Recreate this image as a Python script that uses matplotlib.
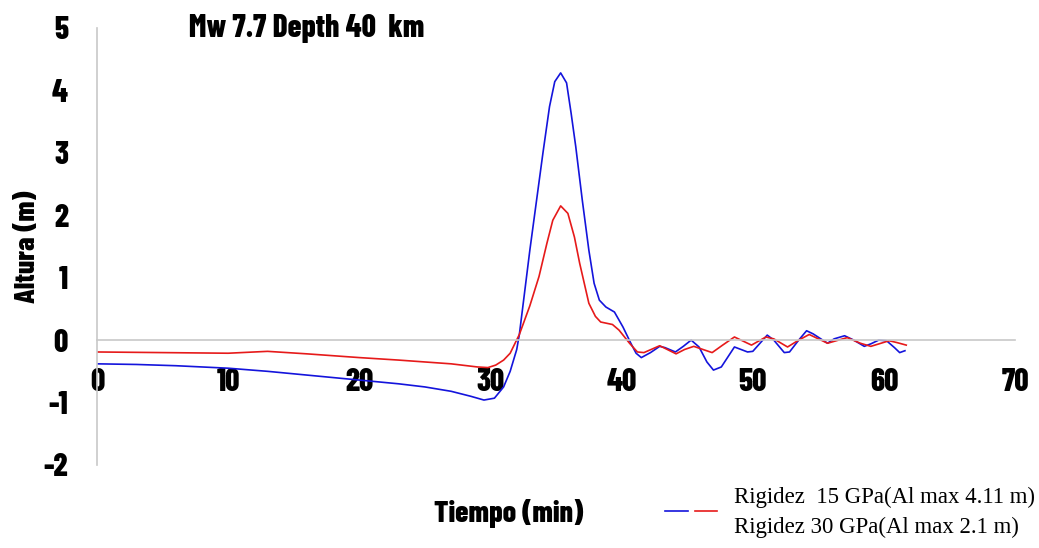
import matplotlib.pyplot as plt
from matplotlib.lines import Line2D

plt.rcParams['axes.unicode_minus'] = False

# tiempo (min) y altura (m)
t_15 = [0, 3, 6, 10, 13, 16, 20, 23, 25, 27, 28.5, 29.5, 30.3, 31.0, 31.5, 32.0, 32.2,
        33.0, 34.0, 34.5, 34.9, 35.35, 35.8, 36.15, 36.5, 37.0, 37.5, 37.9, 38.3, 38.8,
        39.45, 40.1, 40.7, 41.1, 41.5, 42.2, 42.9, 43.3, 44.1, 44.7, 45.3, 45.9, 46.5,
        47.0, 47.6, 48.6, 49.6, 50.0, 51.1, 51.6, 52.4, 52.8, 53.5, 54.1, 54.6, 55.7,
        56.2, 57.0, 57.7, 58.5, 59.0, 59.6, 60.2, 60.8, 61.2, 61.6]
h_15 = [-0.38, -0.39, -0.41, -0.45, -0.50, -0.56, -0.64, -0.70, -0.75, -0.82, -0.90,
        -0.96, -0.93, -0.75, -0.50, -0.15, 0.09, 1.44, 3.0, 3.74, 4.14, 4.28, 4.12, 3.63,
        3.1, 2.24, 1.44, 0.91, 0.64, 0.53, 0.45, 0.21, -0.05, -0.21, -0.28, -0.20, -0.10,
        -0.12, -0.19, -0.10, 0.0, -0.11, -0.35, -0.48, -0.43, -0.11, -0.19, -0.18, 0.08,
        0.0, -0.20, -0.19, 0.0, 0.15, 0.10, -0.05, 0.02, 0.07, 0.0, -0.10, -0.06, 0.0,
        -0.01, -0.12, -0.20, -0.17]

t_30 = [0, 5, 10, 13, 16, 20, 23, 25, 27, 29, 29.8, 30.4, 31.0, 31.5, 32.2, 33.0, 33.7,
        34.3, 34.75, 35.35, 35.9, 36.4, 36.8, 37.5, 38.0, 38.4, 39.3, 39.8, 40.6, 41.2,
        41.7, 42.9, 44.15, 44.8, 45.5, 46.2, 46.9, 47.7, 48.6, 49.9, 51.0, 51.6, 52.65,
        53.5, 54.3, 55.7, 57.2, 58.2, 59.0, 60.4, 61.0, 61.7]
h_30 = [-0.19, -0.20, -0.21, -0.18, -0.22, -0.28, -0.32, -0.35, -0.38, -0.43, -0.44,
        -0.40, -0.32, -0.21, 0.09, 0.55, 1.02, 1.55, 1.92, 2.15, 2.03, 1.65, 1.23, 0.59,
        0.38, 0.29, 0.25, 0.16, -0.05, -0.19, -0.20, -0.09, -0.22, -0.15, -0.10, -0.15,
        -0.20, -0.08, 0.05, -0.08, 0.05, 0.02, -0.11, 0.0, 0.09, -0.05, 0.04, -0.05,
        -0.10, -0.01, -0.04, -0.08]

labels = ['Rigidez  15 GPa(Al max 4.11 m)', 'Rigidez 30 GPa(Al max 2.1 m)']
x_ticks = [0, 10, 20, 30, 40, 50, 60, 70]
y_ticks = [-2, -1, 0, 1, 2, 3, 4, 5]

cond = ['Barlow Condensed', 'DejaVu Sans']
blue = '#1414dc'
red = '#e61a1a'

fig = plt.figure(figsize=(10.39, 5.48), dpi=100)
ax = fig.add_axes([0.0934, 0.1515, 0.8836, 0.7975])

ax.plot(t_15, h_15, color=blue, lw=1.2)
ax.plot(t_30, h_30, color=red, lw=1.2)

ax.set_xlim(0, 70)
ax.set_ylim(-2, 5)
ax.set_xticks(x_ticks)
ax.set_yticks(y_ticks)

for s in ['top', 'right']:
    ax.spines[s].set_visible(False)
ax.spines['bottom'].set_position(('data', 0))
ax.spines['bottom'].set_color('#c8c8c8')
ax.spines['left'].set_color('#c8c8c8')
ax.spines['bottom'].set_linewidth(1.2)
ax.spines['left'].set_linewidth(1.2)

ax.tick_params(axis='x', length=0, pad=20)
ax.tick_params(axis='y', length=0, pad=21)
for lab in ax.get_xticklabels() + ax.get_yticklabels():
    lab.set_family(cond)
    lab.set_fontweight(800)
    lab.set_fontsize(22.5)

ax.set_ylabel('Altura (m)', family=cond, fontweight=800, fontsize=21)
ax.yaxis.set_label_coords(-0.062, 0.5)
fig.text(0.490, 0.063, 'Tiempo (min)', family=cond, fontweight=800, fontsize=21.5,
         ha='center', va='center')
fig.text(0.295, 0.948, 'Mw 7.7 Depth 40  km', family=cond, fontweight=800,
         fontsize=22.5, ha='center', va='center')

# leyenda
fig.add_artist(Line2D([0.640, 0.662], [0.068, 0.068], color=blue, lw=1.2,
                      transform=fig.transFigure))
fig.add_artist(Line2D([0.669, 0.690], [0.068, 0.068], color=red, lw=1.2,
                      transform=fig.transFigure))
fig.text(0.706, 0.093, labels[0], family='Liberation Serif', fontsize=16.4,
         ha='left', va='center')
fig.text(0.706, 0.038, labels[1], family='Liberation Serif', fontsize=16.4,
         ha='left', va='center')

fig.savefig('out.png', dpi=100)
